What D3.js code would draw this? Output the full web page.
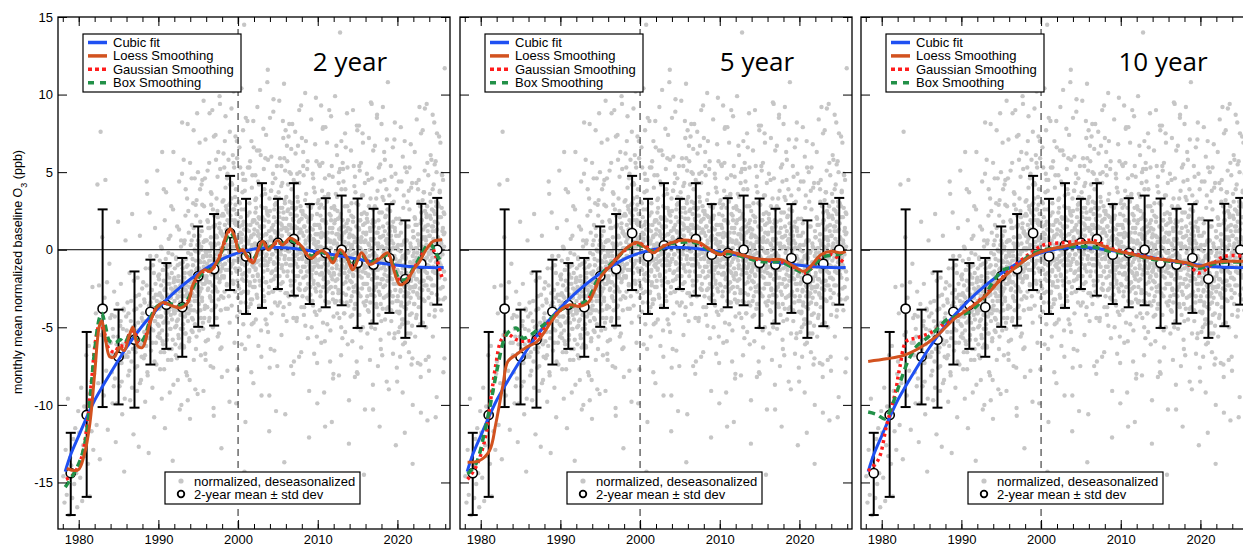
<!DOCTYPE html>
<html>
<head>
<meta charset="utf-8">
<title>Baseline ozone smoothing comparison</title>
<script src="https://cdnjs.cloudflare.com/ajax/libs/d3/7.8.5/d3.min.js"></script>
<style>
  body { margin: 0; background: #fff; }
  svg text { font-family: "Liberation Sans", Arial, sans-serif; fill: #000; }
</style>
</head>
<body>
<div id="chart"></div>
<script>
// ---- data ----
var panelTitles = ["2 year", "5 year", "10 year"];

// 2-year means and std dev bounds
var meanYears = [1979,1981,1983,1985,1987,1989,1991,1993,1995,1997,1999,2001,2003,2005,2007,2009,2011,2013,2015,2017,2019,2021,2023,2025];
var meanVals  = [-14.4,-10.65,-3.8,-6.9,-5.8,-4.0,-3.55,-3.7,-1.7,-1.25,1.07,-0.43,0.28,0.45,0.69,-0.32,-0.21,0.0,-0.86,-0.96,-0.54,-1.89,-0.9,0.0];
var upperVals = [-11.8,-5.3,2.6,-3.86,-1.4,-0.64,-0.86,-0.53,1.5,2.3,4.76,3.28,4.29,3.28,4.29,2.94,3.32,3.49,3.3,2.64,2.94,1.89,2.96,3.34];
var lowerVals = [-17.1,-15.93,-10.14,-9.97,-10.18,-7.4,-6.39,-6.9,-4.97,-4.89,-2.6,-4.14,-3.75,-2.53,-2.96,-3.5,-3.71,-3.58,-5.04,-4.76,-4.07,-5.68,-4.93,-3.54];

// cubic fit (same in every panel)
var cubicFit = [[1978.3,-14.3],[1979,-13.2],[1980,-12.0],[1981,-10.8],[1982,-9.7],[1983,-8.8],[1984,-7.95],[1986,-6.3],[1988,-4.9],[1990,-3.75],[1992,-2.75],[1994,-1.9],[1996,-1.2],[1998,-0.6],[2000,-0.2],[2002,0.05],[2004,0.15],[2006,0.12],[2008,0.02],[2010,-0.15],[2012,-0.33],[2014,-0.52],[2016,-0.7],[2018,-0.87],[2020,-1.0],[2022,-1.1],[2024,-1.15],[2025.8,-1.15]];

// 2 year window
var loess2 = [[1978.5,-14.1],[1979.9,-14.2],[1980.7,-13.2],[1981.4,-11.2],[1982.0,-8.0],[1982.6,-4.9],[1982.9,-4.6],[1983.4,-5.9],[1983.9,-6.9],[1984.5,-6.9],[1985.1,-6.3],[1985.7,-6.5],[1986.3,-5.6],[1986.8,-5.0],[1987.4,-6.2],[1988.0,-6.3],[1988.9,-4.8],[1989.7,-3.8],[1990.6,-3.4],[1991.6,-3.6],[1992.8,-3.75],[1993.7,-3.4],[1994.3,-2.3],[1994.9,-1.7],[1995.8,-1.3],[1996.5,-1.4],[1997.2,-0.9],[1997.7,-0.45],[1998.3,0.6],[1999.0,1.35],[1999.6,0.8],[2000.1,-0.1],[2000.6,0.0],[2001.3,-0.6],[2001.9,-0.85],[2002.5,0.0],[2003.1,0.55],[2003.8,0.0],[2004.4,0.3],[2005.0,0.6],[2005.6,0.3],[2006.5,0.75],[2007.3,0.55],[2008.0,0.2],[2008.6,-0.3],[2009.2,-0.55],[2010.0,-0.2],[2010.5,-0.05],[2011.1,-0.25],[2011.9,-0.85],[2012.8,0.0],[2013.6,-0.45],[2014.4,-1.3],[2015.5,-0.2],[2016.5,-0.95],[2017.6,-0.65],[2018.8,-0.2],[2019.4,-1.05],[2020.3,-2.25],[2021.1,-2.05],[2022.0,-1.3],[2022.8,-0.75],[2023.6,0.0],[2024.5,0.55],[2025.6,0.65]];
var gauss2 = [[1978.4,-14.8],[1979.3,-14.5],[1980.3,-13.5],[1981.0,-11.5],[1981.6,-8.5],[1982.2,-5.6],[1982.7,-4.7],[1983.2,-5.3],[1983.8,-6.4],[1984.5,-6.6],[1985.1,-6.2],[1985.7,-6.2],[1986.4,-5.4],[1986.9,-5.2],[1987.5,-5.9],[1988.1,-5.9],[1988.9,-4.7],[1989.7,-3.8],[1990.6,-3.45],[1991.6,-3.55],[1992.8,-3.7],[1993.7,-3.3],[1994.3,-2.4],[1994.9,-1.8],[1995.8,-1.35],[1996.5,-1.35],[1997.2,-0.95],[1997.7,-0.4],[1998.3,0.5],[1999.0,1.2],[1999.6,0.75],[2000.1,0.0],[2000.6,-0.05],[2001.3,-0.55],[2001.9,-0.7],[2002.5,-0.05],[2003.1,0.45],[2003.8,0.1],[2004.4,0.3],[2005.0,0.5],[2005.6,0.35],[2006.5,0.65],[2007.3,0.5],[2008.0,0.15],[2008.6,-0.25],[2009.2,-0.45],[2010.0,-0.2],[2010.5,-0.1],[2011.1,-0.3],[2011.9,-0.7],[2012.8,-0.05],[2013.6,-0.45],[2014.4,-1.1],[2015.5,-0.3],[2016.5,-0.9],[2017.6,-0.6],[2018.8,-0.3],[2019.4,-0.95],[2020.3,-2.0],[2021.1,-1.95],[2022.0,-1.25],[2022.8,-0.6],[2023.6,0.1],[2024.2,0.3],[2024.8,-0.4],[2025.6,-1.8]];
var box2 = [[1978.3,-15.3],[1979.2,-14.6],[1980.3,-13.4],[1981.0,-11.8],[1981.5,-9.2],[1982.0,-6.5],[1982.6,-4.4],[1982.9,-4.1],[1983.3,-4.8],[1983.9,-5.9],[1984.6,-6.0],[1985.2,-5.8],[1985.8,-6.0],[1986.4,-5.5],[1987.0,-5.6],[1987.6,-6.0],[1988.2,-5.7],[1988.9,-4.6],[1989.7,-3.7],[1990.6,-3.5],[1991.6,-3.5],[1992.8,-3.6],[1993.7,-3.2],[1994.3,-2.5],[1994.9,-1.9],[1995.8,-1.4],[1996.5,-1.3],[1997.2,-1.0],[1997.7,-0.5],[1998.3,0.4],[1999.0,1.1],[1999.6,0.7],[2000.1,0.05],[2000.6,-0.1],[2001.3,-0.5],[2001.9,-0.6],[2002.5,-0.1],[2003.1,0.4],[2003.8,0.15],[2004.4,0.3],[2005.0,0.45],[2005.6,0.4],[2006.5,0.6],[2007.3,0.45],[2008.0,0.1],[2008.6,-0.2],[2009.2,-0.4],[2010.0,-0.25],[2010.5,-0.15],[2011.1,-0.3],[2011.9,-0.6],[2012.8,-0.1],[2013.6,-0.5],[2014.4,-1.0],[2015.5,-0.35],[2016.5,-0.85],[2017.6,-0.6],[2018.8,-0.35],[2019.4,-0.9],[2020.3,-1.9],[2021.1,-1.9],[2022.0,-1.2],[2022.8,-0.5],[2023.6,0.2],[2024.1,0.4],[2024.8,-0.2],[2025.6,-0.9]];

// 5 year window
var loess5 = [[1978.35,-13.7],[1979.8,-13.6],[1981.1,-12.95],[1981.9,-11.2],[1982.8,-8.7],[1983.4,-7.2],[1984.5,-6.75],[1985.7,-6.3],[1987.0,-5.95],[1987.8,-5.45],[1988.9,-4.6],[1989.9,-3.95],[1991.2,-3.55],[1992.4,-3.65],[1993.5,-3.4],[1994.3,-2.6],[1995.0,-1.8],[1996.6,-0.86],[1998.3,0.1],[1999.6,0.47],[2000.8,0.1],[2001.7,-0.2],[2002.5,0.1],[2003.8,0.43],[2005.0,0.6],[2006.3,0.6],[2007.6,0.43],[2008.8,0.0],[2010.1,-0.32],[2010.9,-0.1],[2012.6,-0.32],[2014.3,-0.54],[2016.0,-0.64],[2017.7,-0.64],[2019.3,-1.07],[2020.6,-1.39],[2021.4,-1.07],[2022.7,-0.32],[2024.0,-0.1],[2025.2,-0.2],[2025.8,-0.1]];
var gauss5 = [[1978.35,-14.8],[1979.4,-14.0],[1980.5,-12.3],[1981.3,-9.5],[1981.9,-7.4],[1982.6,-5.8],[1983.4,-5.45],[1984.5,-5.8],[1985.7,-5.9],[1987.0,-5.65],[1988.2,-4.9],[1989.4,-4.2],[1990.6,-3.7],[1991.8,-3.6],[1993.0,-3.45],[1994.2,-2.6],[1995.2,-1.6],[1996.6,-0.8],[1998.2,0.0],[1999.6,0.45],[2000.9,0.15],[2001.8,-0.1],[2003.0,0.25],[2004.4,0.5],[2005.8,0.6],[2007.2,0.45],[2008.6,0.05],[2010.0,-0.3],[2011.2,-0.2],[2012.8,-0.35],[2014.4,-0.6],[2016.0,-0.7],[2017.6,-0.75],[2019.2,-1.1],[2020.6,-1.5],[2021.5,-1.2],[2022.8,-0.45],[2024.0,-0.3],[2025.0,-0.6],[2025.8,-0.9]];
var box5 = [[1978.35,-14.45],[1979.4,-13.8],[1980.5,-11.7],[1981.3,-9.75],[1982.1,-7.6],[1983.0,-5.7],[1983.6,-5.25],[1984.5,-5.05],[1985.3,-5.7],[1986.4,-5.45],[1987.6,-4.95],[1988.7,-4.5],[1989.9,-3.9],[1991.6,-3.6],[1993.3,-3.3],[1994.6,-2.0],[1995.8,-1.2],[1997.0,-0.6],[1998.4,0.1],[1999.6,0.35],[2000.9,0.05],[2001.9,-0.15],[2003.2,0.3],[2004.6,0.45],[2006.0,0.5],[2007.4,0.4],[2008.8,-0.05],[2010.2,-0.3],[2011.3,-0.25],[2012.9,-0.45],[2014.5,-0.7],[2016.1,-0.8],[2017.7,-0.8],[2019.3,-1.2],[2020.6,-1.5],[2021.5,-1.2],[2022.8,-0.5],[2024.0,-0.35],[2025.0,-0.3],[2025.8,-0.1]];

// 10 year window
var loess10 = [[1978.3,-7.2],[1980.6,-7.03],[1982.7,-6.82],[1984.8,-6.32],[1986.9,-5.57],[1989.0,-4.5],[1991.1,-3.75],[1993.2,-2.89],[1994.9,-1.93],[1996.4,-1.3],[1998.7,-0.43],[2000.8,0.0],[2002.8,0.21],[2004.9,0.43],[2006.6,0.47],[2008.7,0.04],[2011.2,-0.26],[2013.7,-0.54],[2016.3,-0.69],[2018.4,-0.86],[2019.8,-1.07],[2021.3,-0.86],[2023.0,-0.75],[2025.8,-0.75]];
var gauss10 = [[1978.3,-14.26],[1979.6,-13.5],[1980.6,-11.36],[1981.7,-9.22],[1982.3,-7.5],[1983.1,-5.9],[1984.4,-5.68],[1986.1,-5.36],[1987.7,-4.82],[1989.4,-4.29],[1991.1,-3.75],[1992.8,-3.0],[1994.5,-2.14],[1996.1,-1.29],[1998.7,-0.21],[2000.4,0.32],[2002.8,0.45],[2004.9,0.54],[2006.6,0.6],[2008.7,0.1],[2011.2,-0.2],[2013.7,-0.5],[2016.3,-0.7],[2018.4,-0.95],[2019.8,-1.5],[2021.3,-1.0],[2023.0,-0.43],[2025.8,-0.43]];
var box10 = [[1978.3,-10.46],[1979.3,-10.6],[1980.4,-10.9],[1981.1,-10.3],[1982.3,-8.57],[1983.3,-7.18],[1984.4,-6.22],[1985.7,-5.68],[1986.9,-5.14],[1988.2,-4.5],[1989.4,-4.29],[1991.1,-3.97],[1992.8,-3.1],[1994.0,-2.04],[1995.3,-1.29],[1997.0,-1.07],[1998.7,-0.32],[2000.8,0.04],[2002.8,0.17],[2004.9,0.21],[2006.6,0.17],[2008.7,-0.1],[2011.2,-0.3],[2013.7,-0.6],[2016.3,-0.75],[2018.4,-0.9],[2019.8,-1.2],[2021.3,-0.95],[2023.0,-0.8],[2025.8,-0.8]];

// monthly normalized, deseasonalized values, one list per year (first group from 1978)
var scatterFirstYear = 1978;
var scatterVals = [
 [-14.6,-16.3,-12.9,-15.8,-9.6,-17.1,-13.4],
 [-13.9,-16.0,-12.2,-15.1,-11.5,-14.4,-16.6,-10.4],
 [-11.8,-14.7,-8.9,-16.2,-12.6,-10.1,-13.3,-6.8],
 [-10.6,-13.8,-6.2,-15.9,-9.1,-11.7,-2.4,-12.9,-8.0],
 [-7.2,-4.1,-11.3,4.2,-8.6,-2.3,-13.5,7.6,-5.5,0.8],
 [-5.3,-9.4,-3.1,4.5,-7.8,-2.1,-11.6,-6.0,-0.9,-4.4],
 [-6.8,-4.2,-9.9,-5.6,-2.7,-8.3,-12.4,-6.1,-3.5,1.8],
 [-6.4,-8.8,-4.9,-2.2,-7.3,-10.6,-5.1,-3.8,-14.3,-6.9,0.6,-4.3],
 [-5.9,-3.4,-8.1,-6.6,-1.5,-9.7,-4.6,-7.2,2.3,-5.0,-11.9,-3.9],
 [-5.2,-7.6,-3.0,-6.3,-9.1,-1.8,-4.7,-12.7,-5.8,0.9,-3.6,-8.4,-6.9,-2.5],
 [-4.6,-2.1,-7.0,-5.3,-3.4,-9.8,-1.2,-6.2,4.4,3.6,-8.1,-5.7,-13.1,-2.8,2.4,-0.4],
 [-4.1,-6.5,-2.6,-3.7,-8.9,-1.0,-5.2,-3.1,-10.8,-4.6,1.4,-2.2,-6.0,-7.4,-3.3,5.1,-4.8,-1.7],
 [-3.6,-1.9,-5.4,-2.8,-7.7,-4.3,0.2,-3.0,-9.6,6.3,-5.9,-1.3,-4.7,3.9,-6.6,-3.4,-11.5,-2.5,-0.6,-4.1],
 [-3.4,-5.8,-1.6,-2.9,-7.1,-4.0,0.7,-3.7,-2.2,-9.2,-1.0,-5.1,-3.1,2.8,-6.4,-4.5,-0.3,-13.6,-2.6,6.3,-3.9,-1.9],
 [-3.3,-1.2,-5.0,-2.4,-6.8,-0.5,-3.9,-4.6,1.5,-2.0,-8.4,-3.0,-1.7,-5.7,4.4,-2.7,-10.3,-0.9,-4.2,-3.5,0.6,-6.1,-2.2,8.2],
 [-3.0,-0.8,-4.8,-2.1,-6.2,0.4,-3.6,-1.5,-5.4,2.2,-2.6,-7.9,-1.1,-4.1,3.3,-2.9,-9.7,-0.2,-3.8,1.1,-5.9,-2.4,-14.8,5.6],
 [-2.1,0.3,-3.9,-1.4,-5.2,1.6,-2.8,-0.6,-4.5,3.0,-1.9,-7.1,0.9,-3.3,4.6,-2.5,-9.0,-0.1,-3.0,2.2,-5.6,-1.2,8.8,-4.0,-1.7,0.6],
 [-1.3,-2.9,0.4,-5.2,-0.7,-2.0,3.9,-3.9,-0.8,-6.8,0.0,-2.5,1.2,-3.3,4.5,-1.8,-4.7,-0.4,-9.1,-1.1,2.8,-4.4,-2.2,0.6,-3.6,7.1,-5.9,-0.2],
 [-1.9,0.6,-3.7,-0.9,1.9,-2.6,-5.8,1.4,-1.1,-2.1,5.6,-4.4,-0.1,-3.0,-0.4,-7.5,0.8,2.9,-1.6,-3.3,0.2,9.0,-2.3,-5.0,-0.7,1.5,-10.7,2.2],
 [0.4,-1.3,-3.7,1.6,-0.6,-2.5,5.8,-1.0,-4.4,0.8,-1.8,2.5,-5.6,-0.1,6.3,-3.2,-1.4,1.4,-2.1,-0.8,9.4,-6.4,1.1,-3.9,0.1,-12.8,2.2,-1.7],
 [-1.2,3.1,0.9,0.0,-3.1,2.2,-1.7,5.3,-0.4,7.0,-0.9,0.7,-3.8,2.8,0.1,1.3,-2.3,4.6,-7.8,1.1,-1.3,2.4,12.8,-3.0,1.7,-0.2,-4.7,4.2],
 [3.0,-0.1,1.3,-1.5,4.3,-3.6,1.9,0.2,-0.9,6.1,1.1,-2.2,10.2,-0.3,2.6,-6.0,1.7,3.4,-1.2,0.6,3.9,-9.9,2.3,-0.7,5.9,-2.0,0.8,-3.1],
 [-2.3,0.4,3.1,-1.2,-0.3,1.5,-4.0,5.3,-0.7,2.1,-2.8,0.7,-6.1,1.0,-1.6,3.7,-0.5,7.7,-4.8,1.8,-2.0,14.5,-14.3,2.6,-1.0,4.5,-3.4,0.8],
 [-0.1,-1.7,1.6,-4.0,0.5,-0.8,5.3,-2.7,0.4,-5.6,1.2,-1.3,2.4,-2.1,5.7,-0.6,-3.5,0.8,-7.9,0.1,4.0,-3.2,-1.0,1.8,-2.4,8.3,-4.7,1.0],
 [-0.6,1.9,-2.4,0.4,3.2,-1.3,-4.5,2.7,0.2,-0.8,6.4,-3.1,1.2,-1.7,0.9,-6.2,2.1,4.2,-0.3,-2.0,1.5,10.3,-1.0,-3.7,0.6,2.8,-9.4,3.5],
 [1.5,-0.2,-2.6,2.7,0.5,-1.4,5.2,0.1,-3.3,1.9,-0.7,3.6,-4.5,1.0,7.4,-2.1,-0.3,2.5,-1.0,0.3,11.6,-5.3,2.2,-2.8,1.2,-11.7,3.3,-0.6],
 [2.5,-0.6,0.8,-2.0,3.8,-4.1,1.4,-0.3,-1.4,4.3,0.6,-2.7,9.7,-0.8,2.1,-6.5,1.2,2.9,-1.7,0.1,3.4,-10.4,1.8,-1.2,5.4,-2.5,0.3,-3.6],
 [-1.7,1.0,3.7,-0.6,0.3,2.1,-3.4,5.9,-0.1,2.7,-2.2,1.3,-5.5,1.6,-1.0,4.3,0.1,8.3,-4.2,2.4,-1.4,10.7,-13.7,3.2,-0.4,5.1,-2.8,1.4],
 [-0.9,3.4,1.2,0.3,-2.8,2.5,-1.4,4.2,-0.1,7.3,-0.6,1.0,-3.5,3.1,0.4,1.6,-2.0,4.9,-7.5,1.4,-1.0,2.7,8.1,-2.7,2.0,0.1,-4.4,4.5],
 [0.9,-0.7,2.6,-3.0,1.5,0.2,4.3,-1.7,1.4,-4.6,2.2,-0.3,3.4,-1.1,6.7,0.4,-2.5,1.8,-6.9,1.1,5.0,-2.2,0.0,2.8,-1.4,9.3,-3.7,2.0],
 [1.1,-0.6,-3.0,2.3,0.1,-1.8,4.8,-0.3,-3.7,1.5,-1.1,3.2,-4.9,0.6,7.0,-2.5,-0.7,2.1,-1.4,-0.1,5.7,-5.7,1.8,-3.2,0.8,-12.1,2.9,-1.0],
 [-1.1,1.4,-2.9,-0.1,2.7,-1.8,-5.0,2.2,-0.3,-1.3,4.9,-3.6,0.7,-2.2,0.4,-6.7,1.6,3.7,-0.8,-2.5,1.0,9.8,-1.5,-4.2,0.1,2.3,-9.9,3.0],
 [-2.2,0.5,3.2,-1.1,-0.2,1.6,-3.9,5.4,-0.6,2.2,-2.7,0.8,-6.0,1.1,-1.5,3.8,-0.4,7.8,-4.7,1.9,-1.9,0.1,-9.2,2.7,-0.9,4.6,-3.3,0.9],
 [1.8,-1.3,0.1,-2.7,3.1,-4.8,0.7,-1.0,-2.1,3.6,-0.1,-3.4,9.0,-1.5,1.4,-7.2,0.5,2.2,-2.4,-0.6,2.7,-11.1,1.1,-1.9,4.7,-3.2,-0.4,-4.3],
 [-1.5,2.8,0.6,-0.3,-3.4,1.9,-2.0,3.6,-0.7,6.7,-1.2,0.4,-4.1,2.5,-0.2,1.0,-2.6,4.3,-8.1,0.8,-1.6,2.1,14.0,-3.3,1.4,-0.5,-5.0,3.9],
 [0.7,-1.0,-3.4,1.9,-0.3,-2.2,4.4,-0.7,-4.1,1.1,-1.5,2.8,-5.3,0.2,6.6,-2.9,-1.1,1.7,-1.8,-0.5,5.3,-6.1,1.4,-3.6,0.4,-12.5,2.5,-1.4],
 [-0.4,-2.0,1.3,-4.3,0.2,-1.1,3.0,-3.0,0.1,-5.9,0.9,-1.6,2.1,-2.4,5.4,-0.9,-3.8,0.5,-8.2,-0.2,3.7,-3.5,-1.3,1.5,-2.7,8.0,-5.0,0.7],
 [-2.5,0.2,2.9,-1.4,-0.5,1.3,-4.2,5.1,-0.9,1.9,-3.0,0.5,-6.3,0.8,-1.8,3.5,-0.7,7.5,-5.0,1.6,-2.2,-0.2,-14.5,2.4,-1.2,4.3,-3.6,0.6],
 [-1.5,1.0,-3.3,-0.5,2.3,-2.2,-5.4,1.8,-0.7,-1.7,4.5,-4.0,0.3,-2.6,0.0,-7.1,1.2,3.3,-1.2,-2.9,0.6,9.4,-1.9,-4.6,-0.3,1.9,-10.3,2.6],
 [1.5,-1.6,-0.2,-3.0,2.8,-5.1,0.4,-1.3,-2.4,3.3,-0.4,-3.7,8.7,-1.8,1.1,-7.5,0.2,1.9,-2.7,-0.9,2.4,-11.4,0.8,-2.2,4.4,-3.5,-0.7,-4.6],
 [-1.9,2.4,0.2,-0.7,-3.8,1.5,-2.4,3.2,-1.1,6.3,-1.6,0.0,-4.5,2.1,-0.6,0.6,-3.0,3.9,-8.5,0.4,-2.0,1.7,10.8,-3.7,1.0,-0.9,-5.4,3.5],
 [-2.9,-0.2,2.5,-1.8,-0.9,0.9,-4.6,4.7,-1.3,1.5,-3.4,0.1,-6.7,0.4,-2.2,3.1,-1.1,7.1,-5.4,1.2,-2.6,-0.6,-12.6,2.0,-1.6,3.9,-4.0,0.2],
 [-1.4,-3.0,0.3,-5.3,-0.8,-2.1,2.0,-4.0,-0.9,-6.9,-0.1,-2.6,1.1,-3.4,4.4,-1.9,-4.8,-0.5,-9.2,-1.2,2.7,-4.5,-2.3,0.5,-3.7,7.0,-6.0,-0.3],
 [-0.6,-2.3,-4.7,0.6,-1.6,-3.5,3.1,-2.0,-5.4,-0.2,-2.8,1.5,-6.6,-1.1,5.3,-4.2,-2.4,0.4,-3.1,-1.8,4.0,-7.4,0.1,-4.9,-0.9,-13.8,1.2,-2.7],
 [-1.7,0.8,-3.5,-0.7,2.1,-2.4,-5.6,1.6,-0.9,-1.9,4.3,-4.2,0.1,-2.8,-0.2,-7.3,1.0,3.1,-1.4,-3.1,0.4,9.2,-2.1,-4.8,-0.5,1.7,-10.5,2.4],
 [1.9,-1.2,0.2,-2.6,3.2,-4.7,0.8,-0.9,-2.0,3.7,0.0,-3.3,9.1,-1.4,1.5,-7.1,0.6,2.3,-2.3,-0.5,2.8,-11.0,1.2,-1.8,4.8,-3.1,-0.3,-4.2],
 [-1.8,0.9,3.6,-0.7,0.2,2.0,-3.5,5.8,-0.2,2.6,-2.3,1.2,-5.6,1.5,-1.1,4.2,0.0,8.2,-4.3,2.3,-1.5,0.5,-10.8,3.1,-0.5,5.0,-2.9,1.3],
 [-1.3,3.0,0.8,-0.1,-3.2,2.1,-1.8,3.8,-0.5,6.9,-1.0,0.6,-3.9,2.7,0.0,1.2,-2.4,4.5,-7.9,1.0,-1.4,2.3,11.7,-3.1]
];

// second group of sites, from 1984
var scatterFirstYearB = 1984;
var scatterValsB = [
 [-6.0,-7.9,-5.1,-8.8,-4.3,-6.7,-9.9,-5.6],
 [-5.8,-7.3,-4.6,-8.5,-6.1,-3.9,-9.6,-6.8],
 [-5.2,-6.9,-4.1,-7.8,-5.5,-3.3,-8.9,-6.4,-2.0],
 [-4.9,-6.6,-3.8,-7.5,-5.2,-2.9,-8.6,-6.1,-4.4],
 [-4.1,-5.9,-3.2,-6.8,-4.6,-2.3,-7.9,-5.3,-3.6,-1.2],
 [-3.4,-5.1,-2.6,-6.0,-3.9,-1.5,-7.2,-4.6,-2.9,-0.4,-4.3,-5.6],
 [-2.9,-4.9,-1.6,-3.8,-0.7,-5.7,-3.4,-6.6,-2.3,-4.3,0.1,-5.2,-3.1,-1.3,-6.1,-3.6,-2.0,-7.7,-2.6,1.9,-4.6,-1.0,-4.0,3.7],
 [-4.4,-2.2,-5.5,-3.2,-1.1,-4.7,-0.2,-3.9,-6.4,-1.8,-3.5,-5.1,0.9,-4.2,-2.5,-7.1,-1.5,-3.7,-2.8,-5.8,2.6,-8.7,-2.1,-4.1],
 [-1.8,-4.1,-2.8,-6.1,-3.7,-0.6,-4.9,-2.5,-7.0,-3.1,-1.0,-4.5,-5.5,-2.0,1.3,-3.9,-6.3,-3.4,-2.3,-5.1,0.2,-10.0,-3.0,4.9],
 [-3.5,-1.2,-5.1,-2.4,-3.9,-6.3,-1.8,0.6,-4.3,-3.0,-5.4,-0.6,-3.7,-2.3,-8.1,-2.8,-1.0,-4.6,2.5,-4.1,-1.5,-5.7,-3.3,-10.9],
 [-1.6,-3.6,-0.3,-2.5,0.6,-4.4,-2.1,-5.3,-1.0,-3.0,1.4,-3.9,-1.8,0.0,-4.8,-2.3,-0.7,-6.4,-1.3,3.2,-3.3,0.3,-2.7,5.0],
 [-2.4,-0.2,-3.5,-1.2,0.9,-2.7,1.8,-1.9,-4.4,0.2,-1.5,-3.1,2.9,-2.2,-0.5,-5.1,0.5,-1.7,-0.8,-3.8,4.6,-6.7,-0.1,-2.1],
 [0.6,-1.7,-0.4,-3.7,-1.3,1.8,-2.5,-0.1,-4.6,-0.7,1.4,-2.1,-3.1,0.4,3.7,-1.5,-3.9,-1.0,0.1,-2.7,2.6,-7.6,-0.6,7.3],
 [-0.8,1.5,-2.4,0.3,-1.2,-3.6,0.9,3.3,-1.6,-0.3,-2.7,2.1,-1.0,0.4,-5.4,-0.1,1.7,-1.9,5.2,-1.4,1.2,-3.0,-0.6,-8.2],
 [1.0,-1.0,2.3,0.1,3.2,-1.8,0.5,-2.7,1.6,-0.4,4.0,-1.3,0.8,2.6,-2.2,0.3,1.9,-3.8,1.3,5.8,-0.7,2.9,-0.1,7.6],
 [0.0,2.2,-1.1,1.2,3.3,-0.3,4.2,0.5,-2.0,2.6,0.9,-0.7,5.3,0.2,1.9,-2.7,2.9,0.7,1.6,-1.4,7.0,-4.3,2.3,0.3],
 [1.8,-0.5,0.8,-2.5,-0.1,3.0,-1.3,1.1,-3.4,0.5,2.6,-0.9,-1.9,1.6,4.9,-0.3,-2.7,0.2,1.3,-1.5,3.8,-6.4,0.6,8.5],
 [0.0,-2.0,1.3,-0.9,2.2,-2.8,-0.5,-3.7,0.6,-1.4,3.0,-2.3,-0.2,1.6,-3.2,-0.7,0.9,-4.8,0.3,4.8,-1.7,1.9,-1.1,6.6],
 [-0.9,1.3,-2.0,0.3,2.4,-1.2,3.3,-0.4,-2.9,1.7,0.0,-1.6,4.4,-0.7,1.0,-3.6,2.0,-0.2,0.7,-2.3,6.1,-5.2,1.4,-0.6],
 [-0.2,2.1,-1.8,0.9,-0.6,-3.0,1.5,3.9,-1.0,0.3,-2.1,2.7,-0.4,1.0,-4.8,0.5,2.3,-1.3,5.8,-0.8,1.8,-2.4,0.0,-7.6],
 [8.5,0.6,-6.4,3.8,-1.5,1.3,0.2,-2.7,-0.3,4.9,1.6,-1.9,-0.9,2.6,0.5,-3.4,1.1,-1.3,3.0,-0.1,-2.5,0.8,-0.5,1.8],
 [1.1,-0.9,2.4,0.2,3.3,-1.7,0.6,-2.6,1.7,-0.3,4.1,-1.2,0.9,2.7,-2.1,0.4,2.0,-3.7,1.4,5.9,-0.6,3.0,0.0,7.7],
 [0.0,2.0,-4.6,6.7,-1.7,1.3,0.4,2.6,-3.0,1.6,-0.1,5.0,-1.0,0.6,2.3,-2.3,0.2,3.9,-0.6,3.0,0.9,-1.4,1.9,-0.3],
 [-7.2,0.4,-2.0,2.2,-0.4,6.2,-0.9,2.7,0.9,-4.4,1.4,0.0,3.1,-1.7,0.7,-0.6,4.3,1.9,-2.6,-0.2,1.3,-1.4,2.5,0.2],
 [7.2,-0.5,2.5,-1.1,5.4,0.9,-4.2,1.5,-0.1,-2.6,2.2,0.4,-1.7,3.6,-0.8,1.2,-3.1,0.1,-2.2,2.8,-0.3,1.9,-1.4,0.6],
 [-1.3,0.9,-2.4,-0.1,2.0,-1.6,2.9,-0.8,-3.3,1.3,-0.4,-2.0,4.0,-1.1,0.6,-4.0,1.6,-0.6,0.3,-2.7,5.7,-5.6,1.0,-1.0],
 [1.6,-0.7,1.0,-2.3,0.2,2.7,-1.6,1.4,-3.0,0.2,2.9,-1.1,-1.6,1.9,5.6,-0.6,-2.4,-0.2,1.0,-1.8,3.4,-5.9,0.9,7.9],
 [-0.6,1.7,-2.2,0.5,-1.0,-3.4,1.1,3.5,-1.4,-0.1,-2.5,2.3,-0.8,0.6,-5.2,0.1,1.9,-1.7,5.4,-1.2,1.4,-2.8,-0.4,-8.0],
 [0.4,-1.6,1.7,-0.5,2.6,-2.4,-0.1,-3.3,1.0,-1.0,3.4,-1.9,0.2,2.0,-2.8,-0.3,1.3,-4.4,0.7,5.2,-1.3,2.3,-0.7,7.0],
 [-1.1,0.9,-5.7,5.6,-2.8,0.2,-0.7,1.5,-4.1,0.5,-1.2,3.9,-2.1,-0.5,1.2,-3.4,-0.9,2.8,-1.7,1.9,-0.2,-2.5,0.8,-1.4],
 [1.0,-1.3,0.0,-3.3,-0.9,2.2,-2.1,0.3,-4.2,-0.3,1.8,-1.7,-2.7,0.8,4.1,-1.1,-3.5,-0.6,0.5,-2.3,3.0,-7.2,-0.2,7.7],
 [-8.0,-0.4,-2.8,1.4,-1.2,5.4,-1.7,1.9,0.1,-5.2,0.6,-0.8,2.3,-2.5,-0.1,-1.4,3.5,1.1,-3.4,-1.0,0.5,-2.2,1.7,-0.6],
 [-0.2,-2.2,1.1,-1.1,2.0,-3.0,-0.7,-3.9,0.4,-1.6,2.8,-2.5,-0.4,1.4,-3.4,-0.9,0.7,-5.0,0.1,4.6,-1.9,1.7,-1.3,6.4],
 [-1.5,0.7,-2.6,-0.3,1.8,-1.8,2.7,-1.0,-3.5,1.1,-0.6,-2.2,3.8,-1.3,0.4,-4.2,1.4,-0.8,0.1,-2.9,5.5,-5.8,0.8,-1.2],
 [8.1,0.2,-6.8,3.4,-1.9,0.9,-0.2,-3.1,-0.7,4.5,1.2,-2.3,-1.3,2.2,0.1,-3.8,0.7,-1.7,2.6,-0.5,-2.9,0.4,-0.9,1.4],
 [-1.1,1.2,-2.7,0.0,-1.5,-3.9,0.6,3.0,-1.9,-0.6,-3.0,1.8,-1.3,0.1,-5.7,-0.4,1.4,-2.2,4.9,-1.7,0.9,-3.3,-0.9,-8.5],
 [-1.3,-3.3,0.0,-2.2,0.9,-4.1,-1.8,-5.0,-0.7,-2.7,1.7,-3.6,-1.5,0.3,-4.5,-2.0,-0.4,-6.1,-1.0,3.5,-3.0,0.6,-2.4,5.3],
 [-2.7,-0.5,-3.8,-1.5,0.6,-3.0,1.5,-2.2,-4.7,-0.1,-1.8,-3.4,2.6,-2.5,-0.8,-5.4,0.2,-2.0,-1.1,-4.1,4.3,-7.0,-0.4,-2.4],
 [0.8,-1.5,-0.2,-3.5,-1.1,2.0,-2.3,0.1,-4.4,-0.5,1.6,-1.9,-2.9,0.6,3.9,-1.3,-3.7,-0.8,0.3,-2.5,2.8,-7.4,-0.4,7.5],
 [-0.4,1.9,-2.0,0.7,-0.8,-3.2,1.3,3.7,-1.2,0.1,-2.3,2.5,-0.6,0.8,-5.0,0.3,2.1,-1.5,5.6,-1.0,1.6,-2.6,-0.2,-7.8],
 [0.9,-1.1,2.2,0.0,3.1,-1.9,0.4,-2.8,1.5,-0.5,3.9,-1.4,0.7,2.5,-2.3,0.2,1.8,-3.9,1.2,5.7,-0.8,2.8,-0.2,7.5],
 [-0.5,1.7,-1.6,0.7,2.8,-0.8,3.7,0.0,-2.5,2.1,0.4,-1.2,4.8,-0.3,1.4,-3.2,2.4,0.2,1.1,-1.9]
];

// scattered high and low months, from 1993
var scatterFirstYearC = 1993;
var scatterValsC = [
 [5.8,3.9,8.1,-8.4],[4.6,7.7,2.9,-9.3],[6.9,4.2,9.6,-7.1],[5.1,8.8,3.6,-10.2],
 [7.4,4.7,9.9,-6.3],[6.2,8.6,4.9,-9.8],[9.1,5.6,7.3,-7.7],[6.6,10.4,4.5,-11.1],
 [8.3,5.3,7.0,-8.6],[4.8,9.2,6.4,-6.9],[7.8,5.9,10.8,-9.4],[6.0,8.9,4.6,-7.5],
 [9.6,5.4,7.2,-10.6],[5.7,8.1,6.5,-8.0],[7.6,4.9,9.0,-6.6],[6.3,10.1,5.2,-9.1],
 [8.4,4.6,6.8,-7.3],[5.5,9.3,7.9,-11.4],[6.9,4.8,8.6,-8.3],[9.9,6.1,5.0,-6.8],
 [5.2,7.5,8.8,-9.7],[6.4,9.0,4.7,-7.9],[8.0,5.6,6.9,-10.3],[4.9,7.2,9.5,-8.7],
 [6.7,8.5,5.3,-6.4],[9.2,5.8,7.1,-9.0],[5.4,6.6,8.2,-7.6],[4.4,7.9,6.0,-11.8],
 [5.0,3.8,6.8,-10.0],[6.3,8.4,4.5,-8.2],[7.7,5.1,9.4,-6.9],[6.1,8.7,5.5,-9.5],
 [7.3,4.9,-7.0]
];

var yTicks = [-15, -10, -5, 0, 5, 10, 15];
var xMajorTicks = [1980, 1990, 2000, 2010, 2020];
var xMinorTicks = d3.range(1978, 2027, 2);

// ---- layout ----
var width = 1243, height = 548;
var panelLeft = [58, 460, 861], panelW = 392;
var plotTop = 17, plotBottom = 529;
var titleCx = [292, 297, 302];

var colors = { cubic: "#1f50f2", loess: "#d2521f", gauss: "#ff1c1c", box: "#229148", dots: "#c6c6c6" };

var panels = [
  { title: panelTitles[0], loess: loess2, gauss: gauss2, box: box2 },
  { title: panelTitles[1], loess: loess5, gauss: gauss5, box: box5 },
  { title: panelTitles[2], loess: loess10, gauss: gauss10, box: box10 }
];

var points = [];
function addYears(list, firstYear, shift) {
  list.forEach(function(arr, k) {
    arr.forEach(function(v, i) {
      points.push([firstYear + k + (i + shift) / arr.length, v]);
    });
  });
}
addYears(scatterVals, scatterFirstYear, 0.5);
addYears(scatterValsB, scatterFirstYearB, 0.2);
addYears(scatterValsC, scatterFirstYearC, 0.7);

var means = meanYears.map(function(yr, i) {
  return { x: yr, m: meanVals[i], hi: upperVals[i], lo: lowerVals[i] };
});

var svg = d3.select("#chart").append("svg")
  .attr("width", width).attr("height", height);

var y = d3.scaleLinear().domain([-18, 15]).range([plotBottom, plotTop]);

panels.forEach(function(p, pi) {
  var x = d3.scaleLinear().domain([1977.4, 2026.6]).range([panelLeft[pi], panelLeft[pi] + panelW]);
  var g = svg.append("g");
  var clipId = "clip" + pi;
  svg.append("clipPath").attr("id", clipId).append("rect")
    .attr("x", x.range()[0]).attr("y", plotTop)
    .attr("width", panelW).attr("height", plotBottom - plotTop);
  var plot = g.append("g").attr("clip-path", "url(#" + clipId + ")");

  plot.append("g").selectAll("circle").data(points).join("circle")
    .attr("cx", function(d) { return x(d[0]); })
    .attr("cy", function(d) { return y(d[1]); })
    .attr("r", 2.2).attr("fill", colors.dots);

  // zero line: solid before 2000, dashed after
  plot.append("line").attr("x1", x.range()[0]).attr("x2", x(2000))
    .attr("y1", y(0)).attr("y2", y(0)).attr("stroke", "#000").attr("stroke-width", 1);
  plot.append("line").attr("x1", x(2000)).attr("x2", x.range()[1])
    .attr("y1", y(0)).attr("y2", y(0)).attr("stroke", "#000").attr("stroke-width", 0.8)
    .attr("stroke-dasharray", "3,3");
  plot.append("line").attr("x1", x(2000)).attr("x2", x(2000))
    .attr("y1", plotTop).attr("y2", plotBottom).attr("stroke", "#333")
    .attr("stroke-width", 1.1).attr("stroke-dasharray", "7,5");

  // error bars
  var eb = plot.append("g").attr("stroke", "#000").attr("stroke-width", 2);
  eb.selectAll("line.v").data(means).join("line").attr("class", "v")
    .attr("x1", function(d) { return x(d.x); }).attr("x2", function(d) { return x(d.x); })
    .attr("y1", function(d) { return y(d.lo); }).attr("y2", function(d) { return y(d.hi); });
  ["lo", "hi"].forEach(function(k) {
    eb.selectAll("line." + k).data(means).join("line").attr("class", k)
      .attr("x1", function(d) { return x(d.x) - 5; }).attr("x2", function(d) { return x(d.x) + 5; })
      .attr("y1", function(d) { return y(d[k]); }).attr("y2", function(d) { return y(d[k]); });
  });
  plot.append("g").selectAll("circle").data(means).join("circle")
    .attr("cx", function(d) { return x(d.x); }).attr("cy", function(d) { return y(d.m); })
    .attr("r", 4.6).attr("fill", "#fff").attr("stroke", "#000").attr("stroke-width", 1.6);

  var line = d3.line().x(function(d) { return x(d[0]); }).y(function(d) { return y(d[1]); })
    .curve(d3.curveCatmullRom.alpha(0.5));
  plot.append("path").attr("d", line(cubicFit)).attr("fill", "none")
    .attr("stroke", colors.cubic).attr("stroke-width", 3);
  plot.append("path").attr("d", line(p.gauss)).attr("fill", "none")
    .attr("stroke", colors.gauss).attr("stroke-width", 3.5).attr("stroke-dasharray", "3,3.5");
  plot.append("path").attr("d", line(p.box)).attr("fill", "none")
    .attr("stroke", colors.box).attr("stroke-width", 3.5).attr("stroke-dasharray", "7,5");
  plot.append("path").attr("d", line(p.loess)).attr("fill", "none")
    .attr("stroke", colors.loess).attr("stroke-width", 3);

  // axes, ticks pointing inward on all sides
  var fmt = function(d) { return String(d); };
  var none = function() { return ""; };
  g.append("g").attr("transform", "translate(0," + plotBottom + ")")
    .call(d3.axisBottom(x).tickValues(xMinorTicks).tickSize(-5).tickFormat(none));
  g.append("g").attr("transform", "translate(0," + plotBottom + ")")
    .call(d3.axisBottom(x).tickValues(xMajorTicks).tickSize(-9).tickPadding(6).tickFormat(fmt));
  g.append("g").attr("transform", "translate(0," + plotTop + ")")
    .call(d3.axisTop(x).tickValues(xMinorTicks).tickSize(-5).tickFormat(none));
  g.append("g").attr("transform", "translate(0," + plotTop + ")")
    .call(d3.axisTop(x).tickValues(xMajorTicks).tickSize(-9).tickFormat(none));
  g.append("g").attr("transform", "translate(" + x.range()[0] + ",0)")
    .call(d3.axisLeft(y).tickValues(yTicks).tickSize(-9).tickPadding(5).tickFormat(pi === 0 ? fmt : none));
  g.append("g").attr("transform", "translate(" + x.range()[1] + ",0)")
    .call(d3.axisRight(y).tickValues(yTicks).tickSize(-9).tickFormat(none));
  g.selectAll(".domain").remove();
  g.selectAll(".tick line").attr("stroke", "#000");
  g.selectAll(".tick text").attr("font-size", 13).attr("fill", "#000")
    .style("font-family", "'Liberation Sans', Arial, sans-serif");

  g.append("rect").attr("x", x.range()[0]).attr("y", plotTop)
    .attr("width", panelW).attr("height", plotBottom - plotTop)
    .attr("fill", "none").attr("stroke", "#000").attr("stroke-width", 1.3);

  // title
  g.append("text").attr("x", x.range()[0] + titleCx[pi]).attr("y", 71)
    .attr("text-anchor", "middle").style("font-family", "'Open Sans', sans-serif")
    .attr("font-size", 26).text(p.title);

  // top-left legend
  var lx = x.range()[0] + 25, ly = 34;
  var lg = g.append("g");
  lg.append("rect").attr("x", lx).attr("y", ly).attr("width", 158).attr("height", 58)
    .attr("fill", "#fff").attr("stroke", "#000").attr("stroke-width", 1.2);
  var items = [
    { label: "Cubic fit", color: colors.cubic, dash: null },
    { label: "Loess Smoothing", color: colors.loess, dash: null },
    { label: "Gaussian Smoothing", color: colors.gauss, dash: "4,3" },
    { label: "Box Smoothing", color: colors.box, dash: "6,6" }
  ];
  items.forEach(function(it, i) {
    var yy = ly + 8.5 + i * 13.4;
    lg.append("line").attr("x1", lx + 5).attr("x2", lx + 24).attr("y1", yy).attr("y2", yy)
      .attr("stroke", it.color).attr("stroke-width", 3.5).attr("stroke-dasharray", it.dash);
    lg.append("text").attr("x", lx + 30).attr("y", yy + 4.5).attr("font-size", 13).text(it.label);
  });

  // bottom legend
  var bx = x.range()[0] + 107, by = 472;
  var bg = g.append("g");
  bg.append("rect").attr("x", bx).attr("y", by).attr("width", 195).attr("height", 32)
    .attr("fill", "#fff").attr("stroke", "#000").attr("stroke-width", 1.2);
  bg.append("circle").attr("cx", bx + 16).attr("cy", by + 9).attr("r", 2.6).attr("fill", colors.dots);
  bg.append("text").attr("x", bx + 29).attr("y", by + 13.5).attr("font-size", 13).text("normalized, deseasonalized");
  bg.append("circle").attr("cx", bx + 16).attr("cy", by + 22).attr("r", 3.3)
    .attr("fill", "#fff").attr("stroke", "#000").attr("stroke-width", 1.8);
  bg.append("text").attr("x", bx + 29).attr("y", by + 26.5).attr("font-size", 13).text("2-year mean \u00b1 std dev");
});

// y axis title
var yt = svg.append("text").attr("transform", "translate(22,272) rotate(-90)")
  .attr("text-anchor", "middle").attr("font-size", 12.5);
yt.append("tspan").text("monthly mean normalized baseline O");
yt.append("tspan").attr("baseline-shift", "sub").attr("font-size", 9).text("3");
yt.append("tspan").text(" (ppb)");
</script>
</body>
</html>
